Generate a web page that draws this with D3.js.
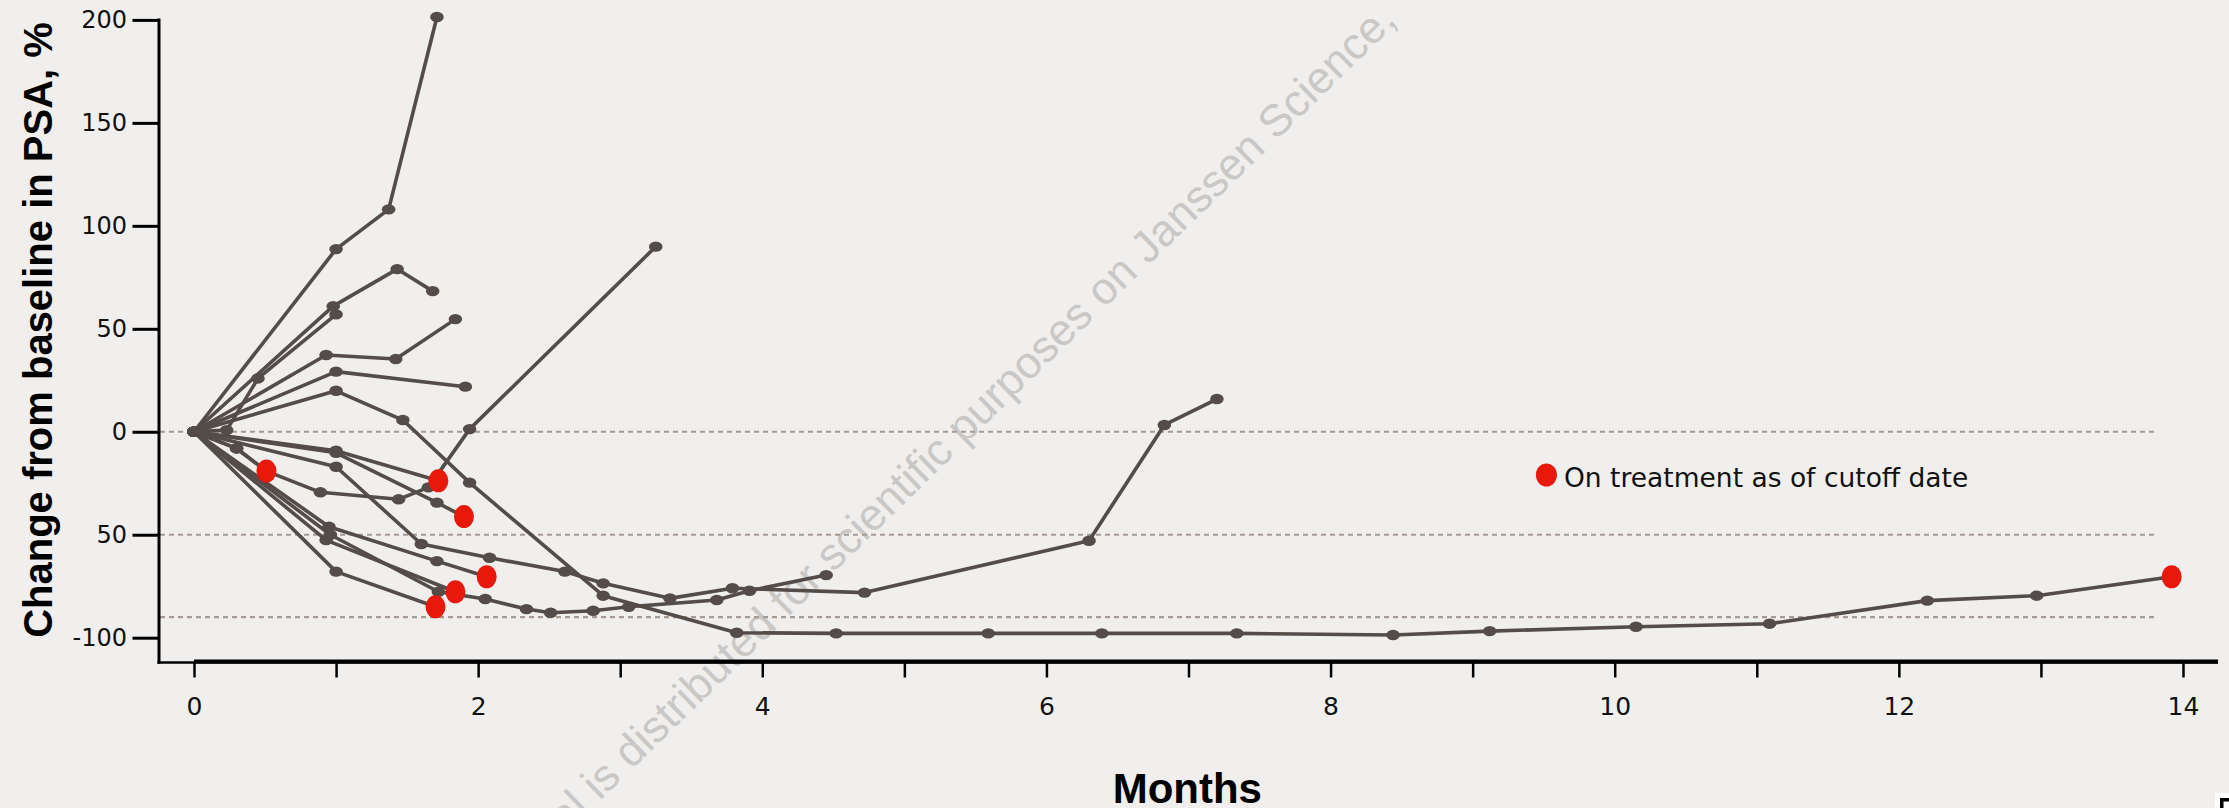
<!DOCTYPE html>
<html>
<head>
<meta charset="utf-8">
<script src="https://cdn.jsdelivr.net/npm/d3@7"></script>
<style>
  html, body { margin: 0; padding: 0; background: #f0efed; }
  svg { display: block; }
</style>
</head>
<body>
<svg id="chart" width="2229" height="808"></svg>
<script>
// PSA change from baseline (%) per patient: [month, percent change]
const pt01 = [[0, 0], [1.0, 88.7], [1.37, 108], [1.71, 201.4]];
const pt02 = [[0, 0], [0.98, 61], [1.43, 79], [1.68, 68.3]];
const pt03 = [[0, 0], [0.23, 0.8], [0.45, 25.9], [1.0, 57]];
const pt04 = [[0, 0], [0.93, 37.3], [1.42, 35.3], [1.84, 54.7]];
const pt05 = [[0, 0], [1.0, 29.2], [1.91, 21.9]];
const pt06 = [[0, 0], [1.0, 19.9], [1.47, 5.7], [1.94, -24.7], [2.88, -79.6], [3.82, -97.6],
              [4.52, -97.9], [5.59, -97.9], [6.39, -97.9], [7.34, -97.9], [8.44, -98.7],
              [9.12, -96.8], [10.15, -94.7], [11.09, -93.2], [12.2, -82], [12.97, -79.6], [13.92, -70.4]];
const pt07 = [[0, 0], [0.3, -8.1], [0.51, -19.1], [0.89, -29.4], [1.44, -32.8], [1.65, -27],
              [1.94, 1.3], [3.25, 89.9]];
const pt08 = [[0, 0], [0.3, -8.1], [0.51, -19.1]];
const pt09 = [[0, 0], [1.0, -9.2], [1.72, -23.8]];
const pt10 = [[0, 0], [1.0, -10.2], [1.71, -34.4], [1.9, -41.2]];
const pt11 = [[0, 0], [1.0, -17], [1.6, -54.5], [2.08, -61.2], [2.61, -67.9], [2.88, -73.6],
              [3.35, -80.9], [3.79, -76], [4.72, -78.1], [6.3, -52.9], [6.83, 3.3], [7.2, 15.9]];
const pt12 = [[0, 0], [0.95, -46.1], [1.71, -62.8], [2.06, -70.4]];
const pt13 = [[0, 0], [0.96, -50], [1.72, -77.7], [2.05, -81.2], [2.34, -86.1], [2.51, -87.9],
              [2.81, -86.9], [3.06, -85], [3.68, -81.7], [3.91, -77.2], [4.45, -69.6]];
const pt14 = [[0, 0], [0.93, -52.6], [1.84, -77.7]];
const pt15 = [[0, 0], [1.0, -67.9], [1.7, -85]];

const patients = [pt01, pt02, pt03, pt04, pt05, pt06, pt07, pt08, pt09, pt10, pt11, pt12, pt13, pt14, pt15];
// patients still on treatment at the data cutoff (last visit gets a red marker)
const onTreatment = [pt06, pt08, pt09, pt10, pt12, pt14, pt15];

const xTickValues = [0, 1, 2, 3, 4, 5, 6, 7, 8, 9, 10, 11, 12, 13, 14];
const yTickValues = [200, 150, 100, 50, 0, -50, -100];
const yTickLabels = ["200", "150", "100", "50", "0", "50", "-100"];
const referenceLevels = [0, -50, -90];

const legendLabel = "On treatment as of cutoff date";
const xTitle = "Months";
const yTitle = "Change from baseline in PSA, %";
const watermark = "This material is distributed for scientific purposes on Janssen Science,";

// ---- layout ----
const W = 2229, H = 808;
const axisX = 159, axisY = 661.5;
const lineColor = "#534c48";
const red = "#e8190b";

const svg = d3.select("#chart");
svg.append("rect").attr("width", W).attr("height", H).attr("fill", "#f0efed");

const x = d3.scaleLinear().domain([0, 14]).range([194, 2183]);
const y = d3.scaleLinear().domain([-100, 200]).range([637.7, 19.9]);

// faint diagonal watermark
svg.append("text")
  .attr("transform", "translate(1398,22) rotate(-44.3)")
  .attr("text-anchor", "end")
  .attr("font-family", "Liberation Sans, Arial, sans-serif")
  .attr("font-size", 44.5)
  .attr("fill", "#c9c8c6")
  .text(watermark);

// dotted reference levels
svg.append("g").selectAll("line")
  .data(referenceLevels)
  .join("line")
  .attr("x1", axisX + 1).attr("x2", 2157)
  .attr("y1", d => y(d)).attr("y2", d => y(d))
  .attr("stroke", "#a59a94")
  .attr("stroke-width", 2.2)
  .attr("stroke-dasharray", "5,4");

// x axis
const gx = svg.append("g")
  .attr("transform", `translate(0,${axisY})`)
  .call(d3.axisBottom(x)
    .tickValues(xTickValues)
    .tickFormat(d => (d % 2 === 0 ? String(d) : ""))
    .tickSize(16)
    .tickSizeOuter(0));
gx.select(".domain").remove();
gx.selectAll(".tick line").attr("stroke", "#000").attr("stroke-width", 2.5);
gx.selectAll(".tick text")
  .attr("font-family", "DejaVu Sans, sans-serif")
  .attr("font-size", 25)
  .attr("fill", "#111")
  .attr("dy", null)
  .attr("y", 715 - axisY);

svg.append("line")
  .attr("x1", axisX - 1.5).attr("x2", 2218)
  .attr("y1", axisY + 1).attr("y2", axisY + 1)
  .attr("stroke", "#000").attr("stroke-width", 2.5);
svg.append("line")
  .attr("x1", x(0)).attr("x2", 2218)
  .attr("y1", axisY).attr("y2", axisY)
  .attr("stroke", "#000").attr("stroke-width", 4);

// y axis
const gy = svg.append("g")
  .attr("transform", `translate(${axisX},0)`)
  .call(d3.axisLeft(y)
    .tickValues(yTickValues)
    .tickFormat((d, i) => yTickLabels[i])
    .tickSize(26.5)
    .tickPadding(5.5)
    .tickSizeOuter(0));
gy.select(".domain").remove();
gy.selectAll(".tick line").attr("stroke", "#000").attr("stroke-width", 3);
gy.selectAll(".tick text")
  .attr("font-family", "DejaVu Sans, sans-serif")
  .attr("font-size", 24)
  .attr("fill", "#111");

svg.append("line")
  .attr("x1", axisX).attr("x2", axisX)
  .attr("y1", y(200) - 1.5).attr("y2", axisY + 2.2)
  .attr("stroke", "#000").attr("stroke-width", 3);

// patient trajectories
const line = d3.line().x(d => x(d[0])).y(d => y(d[1]));
svg.append("g").selectAll("path")
  .data(patients)
  .join("path")
  .attr("d", line)
  .attr("fill", "none")
  .attr("stroke", lineColor)
  .attr("stroke-width", 3.6)
  .attr("stroke-linejoin", "round")
  .attr("stroke-linecap", "round");

// visit markers
svg.append("g").selectAll("ellipse")
  .data(patients.flat())
  .join("ellipse")
  .attr("cx", d => x(d[0])).attr("cy", d => y(d[1]))
  .attr("rx", 6.8).attr("ry", 5.2)
  .attr("fill", lineColor);

// on-treatment markers at the last visit
svg.append("g").selectAll("ellipse")
  .data(onTreatment.map(p => p[p.length - 1]))
  .join("ellipse")
  .attr("cx", d => x(d[0])).attr("cy", d => y(d[1]))
  .attr("rx", 10).attr("ry", 11.5)
  .attr("fill", red);

// legend
const legend = svg.append("g");
legend.append("ellipse")
  .attr("cx", 1546.4).attr("cy", 475)
  .attr("rx", 10.5).attr("ry", 11.5)
  .attr("fill", red);
legend.append("text")
  .attr("x", 1564).attr("y", 486.7)
  .attr("font-family", "DejaVu Sans, sans-serif")
  .attr("font-size", 26.5)
  .attr("fill", "#111")
  .text(legendLabel);

// axis titles
svg.append("text")
  .attr("x", 1187.3).attr("y", 802.5)
  .attr("text-anchor", "middle")
  .attr("font-family", "Liberation Sans, Arial, sans-serif")
  .attr("font-weight", "bold")
  .attr("font-size", 42)
  .attr("fill", "#000")
  .text(xTitle);

svg.append("text")
  .attr("transform", "translate(52,330) rotate(-90)")
  .attr("text-anchor", "middle")
  .attr("font-family", "Liberation Sans, Arial, sans-serif")
  .attr("font-weight", "bold")
  .attr("font-size", 40)
  .attr("fill", "#000")
  .text(yTitle);

// corner mark
svg.append("rect").attr("x", 2215).attr("y", 793).attr("width", 14).attr("height", 15).attr("fill", "#ffffff");
svg.append("path").attr("d", "M2220,798H2229V801.5H2223.5V808H2220Z").attr("fill", "#000");
</script>
</body>
</html>
